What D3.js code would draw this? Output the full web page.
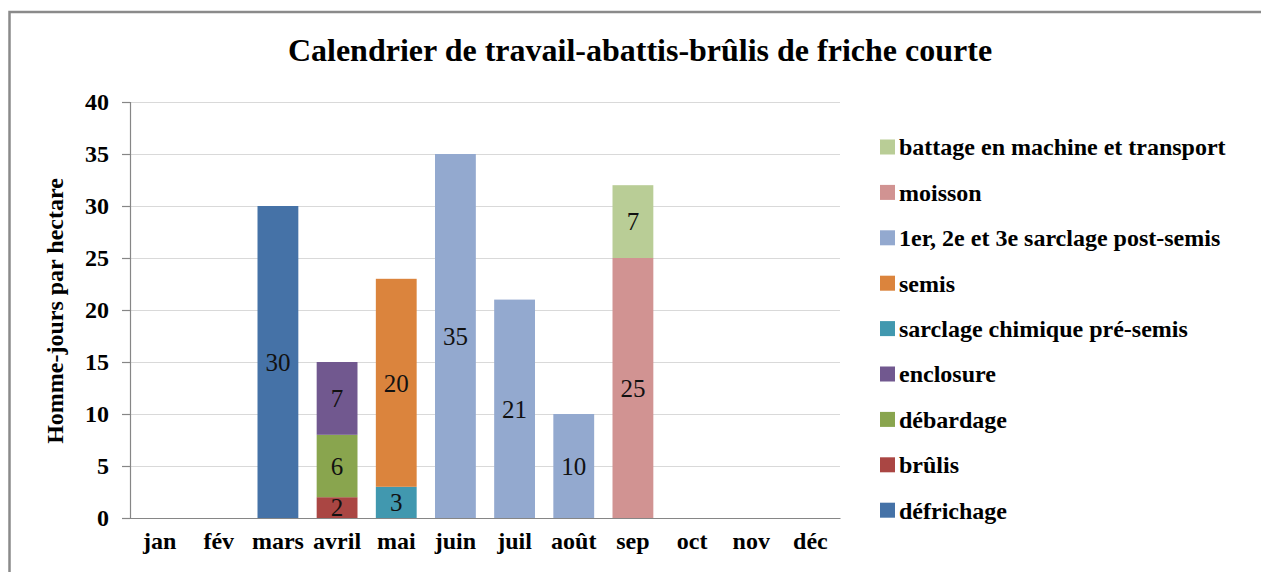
<!DOCTYPE html>
<html>
<head>
<meta charset="utf-8">
<script src="https://cdn.jsdelivr.net/npm/d3@7"></script>
<style>
  html, body { margin: 0; padding: 0; background: #fff; }
  svg { display: block; }
</style>
</head>
<body>
<div id="chart"></div>
<script>
const months = ["jan", "fév", "mars", "avril", "mai", "juin", "juil", "août", "sep", "oct", "nov", "déc"];

// stacked bottom to top, in legend order reversed
const seriesNames = [
  "défrichage",
  "brûlis",
  "débardage",
  "enclosure",
  "sarclage chimique pré-semis",
  "semis",
  "1er, 2e et 3e sarclage post-semis",
  "moisson",
  "battage en machine et transport",
];

const defrichage   = [0, 0, 30, 0, 0, 0, 0, 0, 0, 0, 0, 0];
const brulis       = [0, 0, 0, 2, 0, 0, 0, 0, 0, 0, 0, 0];
const debardage    = [0, 0, 0, 6, 0, 0, 0, 0, 0, 0, 0, 0];
const enclosure    = [0, 0, 0, 7, 0, 0, 0, 0, 0, 0, 0, 0];
const sarclageChim = [0, 0, 0, 0, 3, 0, 0, 0, 0, 0, 0, 0];
const semis        = [0, 0, 0, 0, 20, 0, 0, 0, 0, 0, 0, 0];
const sarclagePost = [0, 0, 0, 0, 0, 35, 21, 10, 0, 0, 0, 0];
const moisson      = [0, 0, 0, 0, 0, 0, 0, 0, 25, 0, 0, 0];
const battage      = [0, 0, 0, 0, 0, 0, 0, 0, 7, 0, 0, 0];

const seriesValues = [defrichage, brulis, debardage, enclosure, sarclageChim, semis, sarclagePost, moisson, battage];
const seriesColors = ["#4572A7", "#AA4643", "#89A54E", "#71588F", "#4198AF", "#DB843D", "#93A9CF", "#D19392", "#B9CD96"];

const yTicks = [0, 5, 10, 15, 20, 25, 30, 35, 40];

const width = 1261;
const height = 572;
const margin = { top: 102, right: 421, bottom: 54, left: 130 };
const serif = "'Liberation Serif', 'DejaVu Serif', serif";

const svg = d3.select("#chart")
  .append("svg")
  .attr("width", width)
  .attr("height", height)
  .attr("font-family", serif);

// outer frame (runs off the right and bottom)
svg.append("rect")
  .attr("x", 9.5)
  .attr("y", 12)
  .attr("width", width + 20)
  .attr("height", height + 20)
  .attr("fill", "none")
  .attr("stroke", "#8a8a8a")
  .attr("stroke-width", 2.5);

svg.append("text")
  .attr("x", 640)
  .attr("y", 61)
  .attr("text-anchor", "middle")
  .attr("font-family", serif)
  .style("font-size", "32px")
  .style("font-weight", "bold")
  .text("Calendrier de travail-abattis-brûlis de friche courte");

const x = d3.scaleBand()
  .domain(months)
  .range([margin.left, width - margin.right])
  .paddingInner(0.31)
  .paddingOuter(0.155);

const y = d3.scaleLinear()
  .domain([0, 40])
  .range([height - margin.bottom, margin.top]);

// gridlines
svg.append("g")
  .selectAll("line")
  .data(yTicks.filter((t) => t > 0))
  .join("line")
  .attr("x1", margin.left)
  .attr("x2", width - margin.right)
  .attr("y1", (d) => y(d) + 0.5)
  .attr("y2", (d) => y(d) + 0.5)
  .attr("stroke", "#d9d9d9")
  .attr("stroke-width", 1.2);

const data = months.map((m, i) => {
  const row = { month: m };
  seriesNames.forEach((name, s) => { row[name] = seriesValues[s][i]; });
  return row;
});

const stacked = d3.stack().keys(seriesNames)(data);

const layers = svg.append("g")
  .selectAll("g")
  .data(stacked)
  .join("g")
  .attr("fill", (d, i) => seriesColors[i]);

layers.selectAll("rect")
  .data((d) => d.filter((p) => p[1] - p[0] > 0))
  .join("rect")
  .attr("x", (d) => x(d.data.month))
  .attr("width", x.bandwidth())
  .attr("y", (d) => y(d[1]))
  .attr("height", (d) => y(d[0]) - y(d[1]));

layers.selectAll("text")
  .data((d) => d.filter((p) => p[1] - p[0] > 0))
  .join("text")
  .attr("x", (d) => x(d.data.month) + x.bandwidth() / 2)
  .attr("y", (d) => y((d[0] + d[1]) / 2))
  .attr("dy", "0.35em")
  .attr("text-anchor", "middle")
  .attr("fill", "#111")
  .attr("font-family", serif)
  .style("font-size", "25px")
  .text((d) => d[1] - d[0]);

// y axis
const yAxis = svg.append("g")
  .attr("transform", `translate(${margin.left},0)`)
  .call(d3.axisLeft(y).tickValues(yTicks).tickSize(8).tickPadding(13));

yAxis.attr("font-family", serif);
yAxis.select(".domain").attr("stroke", "#868686").attr("stroke-width", 1.2);
yAxis.selectAll(".tick line").attr("stroke", "#868686").attr("stroke-width", 1.2);
yAxis.selectAll(".tick text")
  .attr("fill", "#000")
  .style("font-size", "24px")
  .style("font-weight", "bold");

// x axis
const xAxis = svg.append("g")
  .attr("transform", `translate(0,${height - margin.bottom})`)
  .call(d3.axisBottom(x).tickSize(0).tickPadding(14));

xAxis.attr("font-family", serif);
xAxis.select(".domain").attr("stroke", "#868686").attr("stroke-width", 1.2);
xAxis.selectAll(".tick text")
  .attr("fill", "#000")
  .style("font-size", "24px")
  .style("font-weight", "bold");

svg.append("text")
  .attr("transform", `translate(63,${(margin.top + height - margin.bottom) / 2 + 1}) rotate(-90)`)
  .attr("text-anchor", "middle")
  .attr("font-family", serif)
  .style("font-size", "24px")
  .style("font-weight", "bold")
  .text("Homme-jours par hectare");

// legend, top entry is the last series
const legendItems = seriesNames.map((name, i) => ({ name, color: seriesColors[i] })).reverse();

const legend = svg.append("g")
  .selectAll("g")
  .data(legendItems)
  .join("g")
  .attr("transform", (d, i) => `translate(880,${147 + i * 45.4})`);

legend.append("rect")
  .attr("x", 0)
  .attr("y", -7.5)
  .attr("width", 15)
  .attr("height", 15)
  .attr("fill", (d) => d.color);

legend.append("text")
  .attr("x", 19)
  .attr("dy", "0.35em")
  .attr("font-family", serif)
  .style("font-size", "24px")
  .style("font-weight", "bold")
  .text((d) => d.name);
</script>
</body>
</html>
